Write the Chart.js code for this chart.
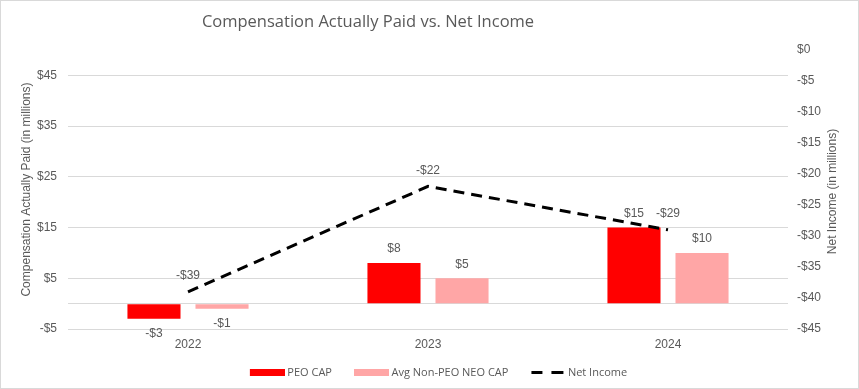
<!DOCTYPE html>
<html><head><meta charset="utf-8">
<script src="https://cdn.jsdelivr.net/npm/chart.js@4.4.1/dist/chart.umd.min.js"></script>
<style>
html,body{margin:0;padding:0;background:#fff;}
#wrap{position:relative;width:857px;height:387px;border:1px solid #d9d9d9;}
</style></head><body>
<div id="wrap"><canvas id="c"></canvas></div>
<script>
const categories = ['2022', '2023', '2024'];
const peoCap = [-3, 8, 15];
const neoCap = [-1, 5, 10];
const netIncome = [-39, -22, -29];
const leftTicks = [-5, 0, 5, 15, 25, 35, 45];
const rightTicks = [0, -5, -10, -15, -20, -25, -30, -35, -40, -45];
const seriesNames = ['PEO CAP', 'Avg Non-PEO NEO CAP', 'Net Income'];
const titleText = 'Compensation Actually Paid vs. Net Income';
const leftAxisTitle = 'Compensation Actually Paid (in millions)';
const rightAxisTitle = 'Net Income (in millions)';

const TEXT = '#595959';
const GRID = '#d9d9d9';
const ARIAL = '"Liberation Sans", Arial, sans-serif';
const money = v => (v < 0 ? '-$' + Math.abs(v) : '$' + v);

function makeSwatch(color, dashed) {
  const c = document.createElement('canvas');
  c.width = 56; c.height = 7;
  const g = c.getContext('2d');
  g.fillStyle = color;
  if (!dashed) {
    g.fillRect(21, 0, 35, 7);
  } else {
    g.fillRect(22, 2, 11, 3);
    g.fillRect(42, 2, 12, 3);
  }
  return c;
}
const swatches = [makeSwatch('#ff0000', false), makeSwatch('#ffa6a6', false), makeSwatch('#000000', true)];

const valueLabels = {
  id: 'valueLabels',
  afterDatasetsDraw(chart) {
    const ctx = chart.ctx;
    ctx.save();
    ctx.font = '12px ' + ARIAL;
    ctx.fillStyle = TEXT;
    ctx.textAlign = 'center';
    ctx.textBaseline = 'middle';
    chart.data.datasets.forEach((ds, i) => {
      const meta = chart.getDatasetMeta(i);
      meta.data.forEach((el, j) => {
        const v = ds.data[j];
        let y;
        if (ds.type === 'line') y = el.y - 16;
        else y = v >= 0 ? el.y - 14 : el.y + 15;
        ctx.fillText(money(v), el.x, y);
      });
    });
    ctx.restore();
  }
};

const chartTexts = {
  id: 'chartTexts',
  afterDraw(chart) {
    const ctx = chart.ctx;
    const area = chart.chartArea;
    ctx.save();
    ctx.font = '16.5px "Open Sans", sans-serif';
    ctx.fillStyle = TEXT;
    ctx.textAlign = 'center';
    ctx.textBaseline = 'middle';
    ctx.fillText(titleText, 367, 21);
    ctx.font = '12px ' + ARIAL;
    ctx.translate(832, (area.top + area.bottom) / 2 + 2);
    ctx.rotate(-Math.PI / 2);
    ctx.fillText(rightAxisTitle, 0, 0);
    ctx.restore();
  }
};

new Chart(document.getElementById('c'), {
  type: 'bar',
  data: {
    labels: categories,
    datasets: [
      { label: seriesNames[0], data: peoCap, backgroundColor: '#ff0000', yAxisID: 'y', order: 1,
        categoryPercentage: 0.567, barPercentage: 0.78 },
      { label: seriesNames[1], data: neoCap, backgroundColor: '#ffa6a6', yAxisID: 'y', order: 1,
        categoryPercentage: 0.567, barPercentage: 0.78 },
      { type: 'line', label: seriesNames[2], data: netIncome, yAxisID: 'y1', order: 0,
        borderColor: '#000000', borderWidth: 3, borderDash: [11, 7], pointRadius: 0, fill: false, tension: 0 }
    ]
  },
  options: {
    responsive: true,
    maintainAspectRatio: false,
    animation: false,
    devicePixelRatio: 1,
    layout: { padding: { top: 49, left: 0, right: 0, bottom: 0 } },
    plugins: {
      tooltip: { enabled: false },
      title: { display: false },
      legend: {
        position: 'bottom',
        labels: {
          usePointStyle: true,
          pointStyleWidth: 50,
          boxHeight: 7,
          padding: 4,
          color: TEXT,
          font: { family: '"Open Sans", sans-serif', size: 11 },
          sort: (a, b) => a.datasetIndex - b.datasetIndex,
          generateLabels(chart) {
            const items = Chart.defaults.plugins.legend.labels.generateLabels(chart);
            items.forEach(it => { it.pointStyle = swatches[it.datasetIndex]; });
            return items;
          }
        }
      }
    },
    scales: {
      x: {
        grid: { display: false, drawTicks: false },
        border: { display: false },
        ticks: { color: TEXT, font: { family: ARIAL, size: 12 }, padding: 8 },
        afterFit(s) { s.height = 34; }
      },
      y: {
        position: 'left',
        min: -5, max: 50,
        grid: { color: GRID, drawTicks: false, lineWidth: 1 },
        border: { display: false },
        afterBuildTicks(s) { s.ticks = leftTicks.map(v => ({ value: v })); },
        ticks: {
          autoSkip: false, color: TEXT, font: { family: ARIAL, size: 12 }, padding: 11,
          callback: v => (v === 0 ? '' : money(v))
        },
        title: { display: true, text: leftAxisTitle, color: TEXT, font: { family: ARIAL, size: 12 }, padding: { top: 18, bottom: 0 } },
        afterFit(s) { s.width = 67; }
      },
      y1: {
        position: 'right',
        min: -45, max: 0,
        grid: { display: false, drawTicks: false },
        border: { display: false },
        afterBuildTicks(s) { s.ticks = rightTicks.map(v => ({ value: v })); },
        ticks: {
          autoSkip: false, color: TEXT, font: { family: ARIAL, size: 12 }, padding: 9,
          callback: v => money(v)
        },
        afterFit(s) { s.width = 70; }
      }
    }
  },
  plugins: [valueLabels, chartTexts]
});
</script>
</body></html>
